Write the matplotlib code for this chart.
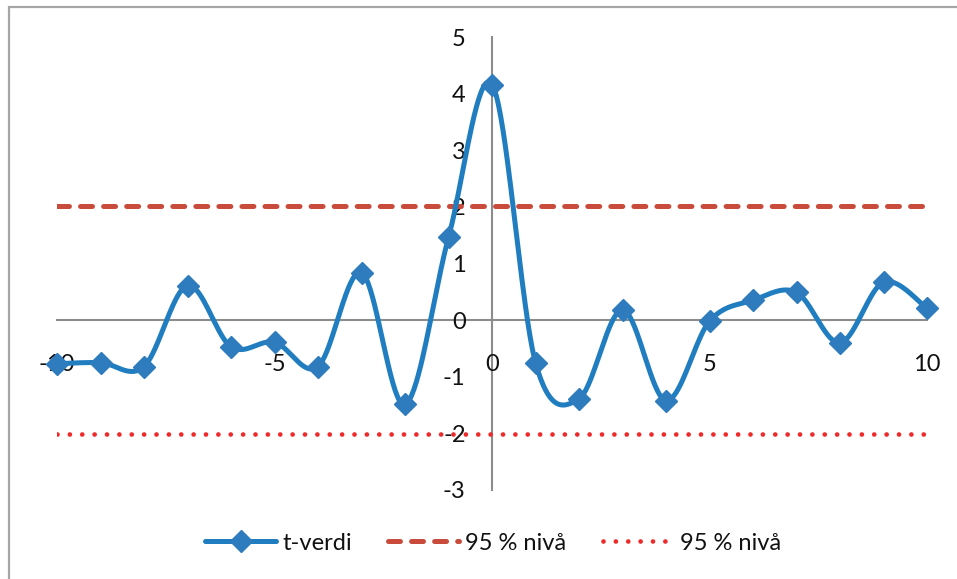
import numpy as np
import matplotlib
matplotlib.use("Agg")
import matplotlib.pyplot as plt
from matplotlib.patches import Rectangle
from matplotlib.lines import Line2D

plt.rcParams['font.family'] = ['Lato', 'DejaVu Sans']
plt.rcParams['lines.scale_dashes'] = False

# data
lags = [-10, -9, -8, -7, -6, -5, -4, -3, -2, -1, 0, 1, 2, 3, 4, 5, 6, 7, 8, 9, 10]
t_values = [-0.77, -0.75, -0.82, 0.61, -0.47, -0.39, -0.82, 0.84, -1.49, 1.46, 4.16,
            -0.75, -1.39, 0.18, -1.42, -0.02, 0.35, 0.49, -0.40, 0.67, 0.21]
level_upper = 2.01
level_lower = -2.01
x_ticks = [-10, -5, 0, 5, 10]
y_ticks = [-3, -2, -1, 0, 1, 2, 3, 4, 5]
series_label = "t-verdi"
level_label = "95 % nivå"

blue = '#1f7dc0'
marker_blue = '#2e7bbe'
dash_red = '#c94b3b'
dot_red = '#ee2a2a'


def smooth(xs, ys, n=40):
    P = np.column_stack([xs, ys]).astype(float)
    P_ext = np.vstack([P[0], P, P[-1]])
    out = []
    for i in range(len(P) - 1):
        p0, p1, p2, p3 = P_ext[i], P_ext[i + 1], P_ext[i + 2], P_ext[i + 3]
        c1 = p1 + (p2 - p0) / 6.0
        c2 = p2 - (p3 - p1) / 6.0
        t = np.linspace(0, 1, n)[:, None]
        seg = ((1 - t) ** 3) * p1 + 3 * ((1 - t) ** 2) * t * c1 + 3 * (1 - t) * t ** 2 * c2 + t ** 3 * p2
        out.append(seg if i == 0 else seg[1:])
    out = np.vstack(out)
    return out[:, 0], out[:, 1]


fig = plt.figure(figsize=(9.57, 5.79), dpi=100)
ax = fig.add_axes([57 / 957, 1 - 490 / 579, 870 / 957, 453 / 579])

# border
fig.patches.append(Rectangle((9 / 957, -0.1), 2.0, 0.1 + 1 - 7 / 579, transform=fig.transFigure,
                             fill=False, edgecolor='#a6a6a6', linewidth=1.6))

ax.set_xlim(-10, 10)
ax.set_ylim(-3, 5)

# reference lines
ax.plot([lags[0], lags[-1]], [level_upper, level_upper], color=dash_red, lw=3.6,
        dashes=(8.6, 8.0), dash_capstyle='round', solid_capstyle='round', zorder=2)
ax.plot([lags[0], lags[-1]], [level_lower, level_lower], color=dot_red, lw=3.4,
        dashes=(0.01, 8.9), dash_capstyle='round', zorder=2)

sx, sy = smooth(lags, t_values)
ax.plot(sx, sy, color=blue, lw=3.6, solid_capstyle='round', zorder=3, clip_on=False)
ax.plot(lags, t_values, linestyle='none', marker='D', markersize=11,
        color=marker_blue, zorder=4, clip_on=False)

# spines
for s in ['top', 'right']:
    ax.spines[s].set_visible(False)
ax.spines['left'].set_position(('data', 0))
ax.spines['bottom'].set_position(('data', 0))
for s in ['left', 'bottom']:
    ax.spines[s].set_color('#8c8c8c')
    ax.spines[s].set_linewidth(1.5)
    ax.spines[s].set_zorder(1)

ax.set_xticks(x_ticks)
ax.set_xticklabels([str(v) for v in x_ticks])
ax.set_yticks(y_ticks)
ax.set_yticklabels([str(v) for v in y_ticks])
ax.tick_params(axis='both', length=0, labelsize=17, labelcolor='#111111')
ax.tick_params(axis='x', pad=24.5)
ax.tick_params(axis='y', pad=19)
for lbl in ax.get_xticklabels() + ax.get_yticklabels():
    lbl.set_zorder(1)
ax.set_facecolor('none')

handles = [
    Line2D([], [], color=blue, lw=3.6, marker='D', markersize=11, markerfacecolor=marker_blue,
           markeredgecolor=marker_blue, solid_capstyle='round'),
    Line2D([], [], color=dash_red, lw=3.6, dashes=(8.6, 8.0), dash_capstyle='round'),
    Line2D([], [], color=dot_red, lw=3.4, dashes=(0.01, 8.9), dash_capstyle='round'),
]
fig.legend(handles, [series_label, level_label, level_label], ncol=3, loc='center',
           bbox_to_anchor=(493 / 957, 1 - 543 / 579), frameon=False, fontsize=17,
           handlelength=3.0, handletextpad=0.25, columnspacing=1.55, labelcolor='#111111')

fig.savefig('out.png', dpi=100)
